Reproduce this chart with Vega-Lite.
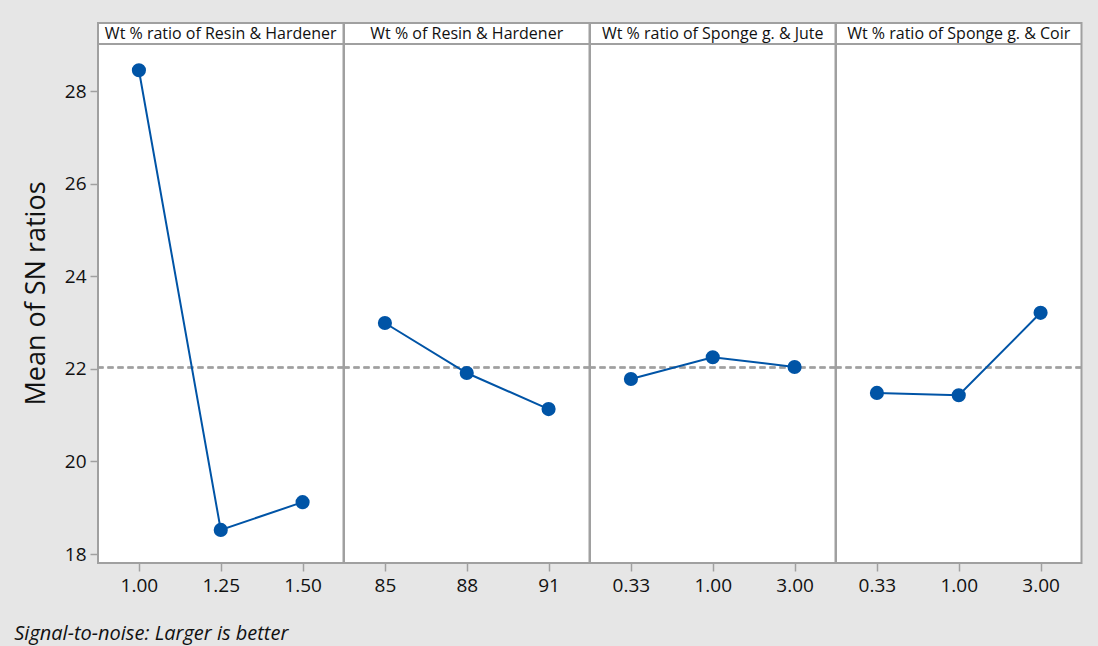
{
  "$schema": "https://vega.github.io/schema/vega-lite/v6.json",
  "background": "#e6e6e6",
  "padding": {"left": 14, "top": 22, "right": 18, "bottom": 4},
  "bounds": "flush",
  "config": {
    "font": "Open Sans",
    "view": {"stroke": "#a0a0a0", "strokeWidth": 2, "fill": "white"},
    "axis": {"domain": false, "grid": false, "tickColor": "#a0a0a0", "tickWidth": 1.5, "tickSize": 8, "labelColor": "#111111", "labelFontSize": 19, "labelFont": "Open Sans"}
  },
  "title": {"text": "Signal-to-noise: Larger is better", "orient": "bottom", "anchor": "start", "frame": "bounds", "fontSize": 20, "fontStyle": "italic", "fontWeight": "normal", "color": "#111111", "offset": 28, "dx": -8},
  "data": {"values": [
    {"factor": "Wt % ratio of Resin & Hardener", "level": "1.00", "sn": 28.45},
    {"factor": "Wt % ratio of Resin & Hardener", "level": "1.25", "sn": 18.52},
    {"factor": "Wt % ratio of Resin & Hardener", "level": "1.50", "sn": 19.12},
    {"factor": "Wt % of Resin & Hardener", "level": "85", "sn": 22.99},
    {"factor": "Wt % of Resin & Hardener", "level": "88", "sn": 21.91},
    {"factor": "Wt % of Resin & Hardener", "level": "91", "sn": 21.13},
    {"factor": "Wt % ratio of Sponge g. & Jute", "level": "0.33", "sn": 21.78},
    {"factor": "Wt % ratio of Sponge g. & Jute", "level": "1.00", "sn": 22.25},
    {"factor": "Wt % ratio of Sponge g. & Jute", "level": "3.00", "sn": 22.04},
    {"factor": "Wt % ratio of Sponge g. & Coir", "level": "0.33", "sn": 21.48},
    {"factor": "Wt % ratio of Sponge g. & Coir", "level": "1.00", "sn": 21.43},
    {"factor": "Wt % ratio of Sponge g. & Coir", "level": "3.00", "sn": 23.21}
  ]},
  "facet": {
    "column": {
      "field": "factor",
      "type": "nominal",
      "sort": ["Wt % ratio of Resin & Hardener", "Wt % of Resin & Hardener", "Wt % ratio of Sponge g. & Jute", "Wt % ratio of Sponge g. & Coir"],
      "title": null,
      "header": {"labels": false, "title": null}
    }
  },
  "spacing": 0,
  "resolve": {"scale": {"x": "independent"}},
  "spec": {
    "width": 245.5,
    "height": 540,
    "encoding": {
      "x": {"field": "level", "type": "ordinal", "scale": {"type": "point", "padding": 0.5}, "axis": {"title": null, "labelAngle": 0, "labelPadding": 5}}
    },
    "layer": [
      {
        "mark": {"type": "rule", "stroke": "#a0a0a0", "strokeWidth": 2, "strokeDash": [6, 4]},
        "encoding": {"x": null, "y": {"datum": 22.03, "type": "quantitative"}}
      },
      {
        "mark": {"type": "rule", "stroke": "#a0a0a0", "strokeWidth": 2},
        "encoding": {"x": null, "y": {"datum": 29.015, "type": "quantitative"}}
      },
      {
        "mark": {"type": "line", "color": "#0054a6", "strokeWidth": 2},
        "encoding": {
          "y": {"field": "sn", "type": "quantitative", "scale": {"domain": [17.806, 29.47], "nice": false, "zero": false},
            "axis": {"values": [18, 20, 22, 24, 26, 28], "title": "Mean of SN ratios", "titleFontSize": 27, "titleFontWeight": "normal", "titleColor": "#111111", "titlePadding": 14, "titleFont": "Open Sans", "labelPadding": 4}}
        }
      },
      {
        "mark": {"type": "point", "filled": true, "color": "#0054a6", "size": 200, "opacity": 1},
        "encoding": {"y": {"field": "sn", "type": "quantitative"}}
      },
      {
        "transform": [
          {"window": [{"op": "row_number", "as": "r"}], "groupby": ["factor"]},
          {"filter": "datum.r == 2"}
        ],
        "mark": {"type": "text", "fontSize": 16, "color": "#111111", "baseline": "middle", "align": "center"},
        "encoding": {"y": {"datum": 29.24, "type": "quantitative"}, "text": {"field": "factor"}}
      }
    ]
  }
}
